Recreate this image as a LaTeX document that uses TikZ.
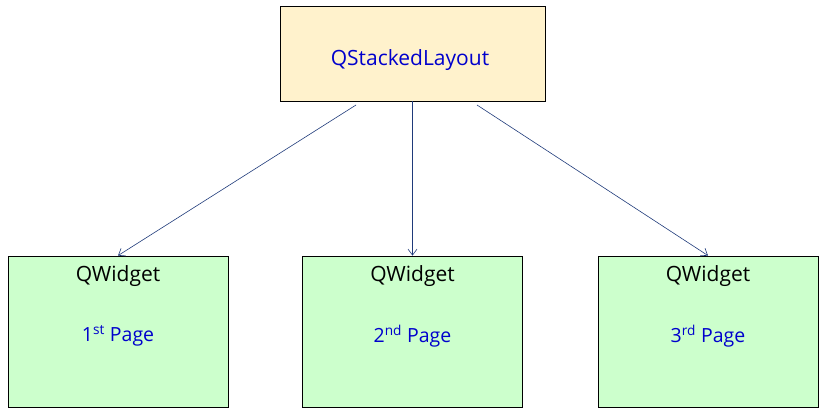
\documentclass[tikz,border=0pt]{standalone}
\usepackage{fontspec}
\setmainfont{Open Sans}
\usetikzlibrary{arrows.meta}
\definecolor{topfill}{HTML}{FFF2CC}
\definecolor{pagefill}{HTML}{CCFFCC}
\definecolor{txtblue}{HTML}{0000CC}
\definecolor{arrowcol}{HTML}{1F3A7A}
\begin{document}
\begin{tikzpicture}[x=1pt,y=-1pt,
  box/.style={draw=black, line width=0.8pt, inner sep=0pt},
  topbox/.style={box, fill=topfill, minimum width=265pt, minimum height=95pt},
  pagebox/.style={box, fill=pagefill, minimum width=220pt, minimum height=151pt},
  conn/.style={draw=arrowcol, line width=0.6pt, -{Straight Barb[length=6pt,width=9pt,line width=0.6pt]}},
  lbl/.style={font=\fontsize{21}{24}\selectfont},
  bluelbl/.style={lbl, text=txtblue},
  pagelbl/.style={bluelbl, font=\fontsize{19.5}{22}\selectfont}
]
\useasboundingbox (0,0) rectangle (829,414);
\node[topbox] (top) at (412.5,53.5) {};
\node[bluelbl] (toplbl) at (410,60) {QStackedLayout};

\node[pagebox] (p1) at (118,331.5) {};
\node[pagebox] (p2) at (412.5,331.5) {};
\node[pagebox] (p3) at (708,331.5) {};

\foreach \n/\x/\s in {1/118/st, 2/412.5/nd, 3/708/rd} {
  \node[lbl] (w\n) at (\x,276) {QWidget};
  \node[pagelbl] (g\n) at (\x,336) {\n\textsuperscript{\s} Page};
}

\coordinate (s1) at (356,105);
\coordinate (s3) at (477,105);
\draw[conn] (s1) -- (p1.north);
\draw[conn] (top.south) -- (p2.north);
\draw[conn] (s3) -- (p3.north);
\end{tikzpicture}
\end{document}
